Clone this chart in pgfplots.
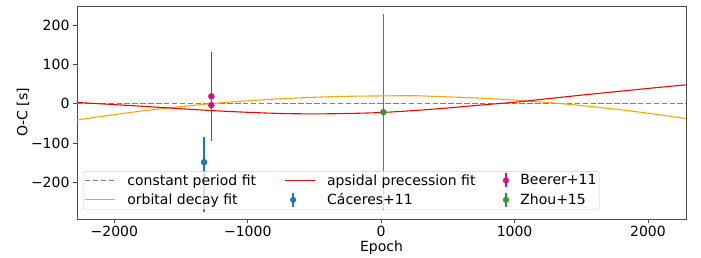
\documentclass[border=0pt]{standalone}
\usepackage{fontspec}
\setmainfont{DejaVu Sans}
\usepackage{pgfplots}
\pgfplotsset{compat=1.18}
\definecolor{cblue}{rgb}{0.122,0.467,0.706}
\definecolor{cbeer}{rgb}{0.82,0.06,0.55}
\definecolor{czhou}{rgb}{0.17,0.6,0.17}
\definecolor{corange}{rgb}{1,0.647,0}
\definecolor{cgrid}{rgb}{0.5,0.5,0.5}
\definecolor{cred}{rgb}{1,0,0}
\pgfdeclareplotmark{errdot}{%
  \pgfpathmoveto{\pgfqpoint{0pt}{-7pt}}\pgfpathlineto{\pgfqpoint{0pt}{7pt}}\pgfusepathqstroke
  \pgfpathcircle{\pgfpointorigin}{2.4pt}\pgfusepathqfillstroke}
\begin{document}
\begin{tikzpicture}
\begin{axis}[name=ax, scale only axis, width=609pt, height=213pt,
  xmin=-2280, xmax=2285, ymin=-292, ymax=248,
  xtick={-2000,-1000,0,1000,2000}, xticklabels={−2000,−1000,0,1000,2000},
  ytick={-200,-100,0,100,200}, yticklabels={−200,−100,0,100,200},
  tick align=outside, tick pos=left, major tick length=4pt,
  tick label style={font=\fontsize{14}{16}\selectfont},
  label style={font=\fontsize{14}{16}\selectfont},
  xlabel={Epoch}, ylabel={O-C [s]},
  xlabel style={yshift=3pt},
  ylabel style={yshift=-5pt},
  axis line style={black!70, line width=0.8pt},
  tick style={black!70, line width=0.8pt},
  legend columns=3,
  legend cell align=left,
  legend style={at={(0.01,0.045)}, anchor=south west,
    font=\fontsize{14}{16}\selectfont, draw=black!20, rounded corners=2pt,
    fill=white, fill opacity=0.8, text opacity=1, inner sep=1pt,
    row sep=3pt,
    /tikz/every odd column/.append style={column sep=10pt},
    /tikz/every even column/.append style={column sep=26pt}},
]
\addlegendimage{legend image code/.code={\draw[color=cgrid, line width=1.1pt, dash pattern=on 5.5pt off 2.4pt] (0pt,0pt) -- (30pt,0pt);}}
\addlegendentry{constant period fit}
\addlegendimage{legend image code/.code={\draw[color=cred, line width=1.1pt] (0pt,0pt) -- (30pt,0pt);}}
\addlegendentry{apsidal precession fit}
\addlegendimage{only marks, mark=errdot, draw=cbeer, fill=cbeer, mark options={line width=1.3pt}}
\addlegendentry{Beerer+11}
\addlegendimage{legend image code/.code={\draw[color=corange, line width=1.1pt] (0pt,0pt) -- (30pt,0pt);}}
\addlegendentry{orbital decay fit}
\addlegendimage{only marks, mark=errdot, draw=cblue, fill=cblue, mark options={line width=1.3pt}}
\addlegendentry{Cáceres+11}
\addlegendimage{only marks, mark=errdot, draw=czhou, fill=czhou, mark options={line width=1.3pt}}
\addlegendentry{Zhou+15}

% error bars drawn first (value - error to value + error)
\addplot[forget plot, color=czhou, line width=1.4pt] coordinates {(17,-270) (17,228)};
\addplot[forget plot, color=cbeer, line width=1.4pt] coordinates {(-1273,-93) (-1273,131)};
\addplot[forget plot, color=cblue, line width=1.4pt] coordinates {(-1327,-273) (-1327,-83)};

\addplot[forget plot, draw=cgrid, line width=1.1pt, dash pattern=on 5.5pt off 2.4pt] coordinates {(-2280,0) (2285,0)};
\addplot[forget plot, draw=corange, line width=1.1pt, smooth] coordinates {
(-2280,-41.2) (-2250,-39.6) (-2000,-27.3) (-1750,-16.4) (-1500,-6.95) (-1250,1.1)
(-1000,7.7) (-750,12.9) (-500,16.7) (-250,19.1) (0,20) (250,20.5) (500,17.6)
(750,14.3) (1000,9.5) (1250,3.3) (1500,-4.3) (1750,-13.3) (2000,-23.8) (2250,-35.7) (2285,-37.4)};
\addplot[forget plot, draw=cred, line width=1.1pt, smooth] coordinates {
(-2280,3.5) (-2000,-2) (-1750,-7) (-1500,-12.5) (-1250,-17.5) (-1000,-21.5)
(-750,-24.5) (-500,-25.5) (-250,-24.5) (0,-22) (250,-17) (500,-10.5) (750,-3)
(1000,4) (1250,13) (1500,22) (1750,30.5) (2000,39) (2250,47) (2285,48)};

% points
\addplot[forget plot, only marks, mark=*, mark size=3pt, draw=cblue, fill=cblue] coordinates {(-1327,-148)};
\addplot[forget plot, only marks, mark=*, mark size=3pt, draw=cbeer, fill=cbeer] coordinates {(-1273,19) (-1273,-3.5)};
\addplot[forget plot, only marks, mark=*, mark size=3pt, draw=czhou, fill=czhou] coordinates {(17,-21)};
\end{axis}
\pgfresetboundingbox
\path ([xshift=-77pt,yshift=-38pt]ax.south west) rectangle ([xshift=15pt,yshift=6pt]ax.north east);
\end{tikzpicture}
\end{document}
